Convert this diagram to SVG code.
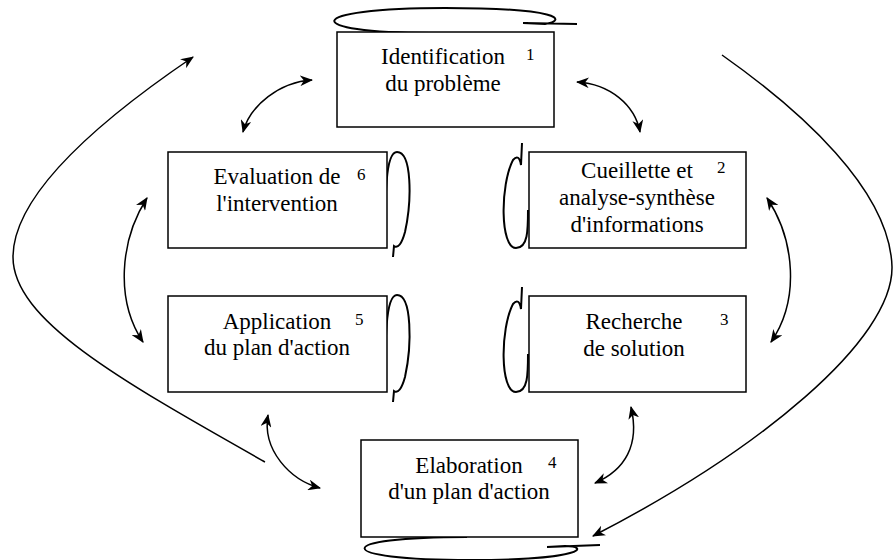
<svg xmlns="http://www.w3.org/2000/svg" width="893" height="560" viewBox="0 0 893 560">
<style>
.box{fill:#fff;stroke:#000;stroke-width:1.5}
.t{font-family:"Liberation Serif","Times New Roman",serif;font-size:23px;fill:#000;text-anchor:middle}
.n{font-family:"Liberation Serif","Times New Roman",serif;font-size:17px;fill:#000}
.c{fill:none;stroke:#000;stroke-width:1.5}
.lp{fill:none;stroke:#000;stroke-width:2}
</style>
<defs>
<marker id="ah" viewBox="0 0 12 10" refX="11" refY="5" markerWidth="13" markerHeight="11" markerUnits="userSpaceOnUse" orient="auto-start-reverse">
<path d="M0,0 L12,5 L0,10 L3.5,5 z" fill="#000"/>
</marker>
</defs>
<g id="connectors">
<path class="c" d="M243,132 C250,105 280,82 312,80" marker-start="url(#ah)" marker-end="url(#ah)"/>
<path class="c" d="M577,82 C610,84 635,105 640,132" marker-start="url(#ah)" marker-end="url(#ah)"/>
<path class="c" d="M147,198 C120,240 115,300 143,342" marker-start="url(#ah)" marker-end="url(#ah)"/>
<path class="c" d="M767,198 C795,240 800,300 771,342" marker-start="url(#ah)" marker-end="url(#ah)"/>
<path class="c" d="M268,415 C262,450 290,480 320,488" marker-start="url(#ah)" marker-end="url(#ah)"/>
<path class="c" d="M595,483 C625,470 640,445 631,407" marker-start="url(#ah)" marker-end="url(#ah)"/>
<path class="c" d="M265,462 C120,380 13,320 13,257 C13,195 100,120 193,57" marker-end="url(#ah)"/>
<path class="c" d="M722,55 C800,110 890,190 892,267 C893,340 760,450 593,536" marker-end="url(#ah)"/>
<path class="lp" d="M430,33 C300,33 300,8 445,8 C560,8 568,20 545,24 L523,23 M523,23 L577,24"/>
<path class="lp" d="M467,537 C330,537 330,560 470,560 C585,560 590,546 565,546 L547,547 M547,547 L600,545"/>
<path class="lp" d="M393,257 L394,246 Q400,250 405,232 C412,200 412,152 397,152 C385,152 385,200 386,240"/>
<path class="lp" d="M393,402 L394,391 Q400,395 405,377 C412,345 412,295 397,295 C385,295 385,345 386,385"/>
<path class="lp" d="M522,143 L521,165 Q519,153 513,160 C500,185 500,248 516,248 C528,248 528,230 528,210"/>
<path class="lp" d="M522,287 L521,309 Q519,297 513,304 C500,329 500,392 516,392 C528,392 528,374 528,354"/>
</g>
<g id="node1">
<rect class="box" x="337" y="32" width="217" height="95"/>
<text class="t" x="443" y="64">Identification</text>
<text class="t" x="443" y="91">du problème</text>
<text class="n" x="526" y="60">1</text>
</g>
<g id="node2">
<rect class="box" x="529" y="152" width="217" height="96"/>
<text class="t" x="637" y="178">Cueillette et</text>
<text class="t" x="637" y="205">analyse-synthèse</text>
<text class="t" x="637" y="232">d'informations</text>
<text class="n" x="717" y="173">2</text>
</g>
<g id="node3">
<rect class="box" x="529" y="296" width="217" height="96"/>
<text class="t" x="634" y="329">Recherche</text>
<text class="t" x="634" y="356">de solution</text>
<text class="n" x="720" y="325">3</text>
</g>
<g id="node4">
<rect class="box" x="361" y="440" width="217" height="97"/>
<text class="t" x="469" y="473">Elaboration</text>
<text class="t" x="469" y="499">d'un plan d'action</text>
<text class="n" x="548" y="468">4</text>
</g>
<g id="node5">
<rect class="box" x="168" y="296" width="219" height="96"/>
<text class="t" x="277" y="329">Application</text>
<text class="t" x="277" y="355">du plan d'action</text>
<text class="n" x="355" y="325">5</text>
</g>
<g id="node6">
<rect class="box" x="168" y="152" width="219" height="96"/>
<text class="t" x="277" y="184">Evaluation de</text>
<text class="t" x="277" y="211">l'intervention</text>
<text class="n" x="357" y="180">6</text>
</g>
</svg>
